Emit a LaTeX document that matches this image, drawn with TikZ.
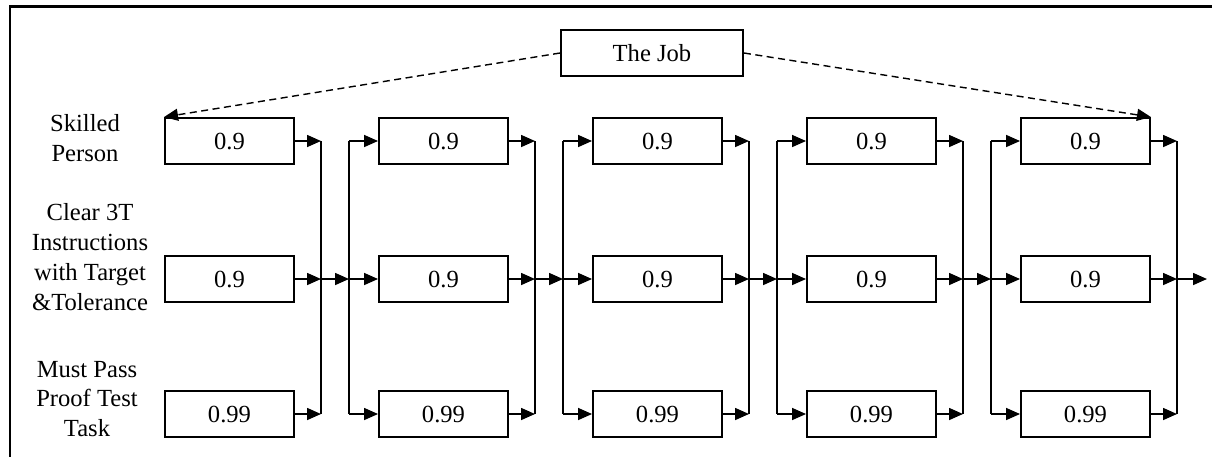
\documentclass[tikz,border=0pt]{standalone}
\usepackage{fontspec}
\setmainfont{Liberation Serif}
\usetikzlibrary{arrows.meta,positioning}

\begin{document}
\begin{tikzpicture}[x=0.2mm,y=-0.2mm,>={Triangle[length=2.8mm,width=2.4mm]},
  line width=0.9pt,
  cell/.style={draw,line width=1.1pt,minimum width=25.8mm,minimum height=9.2mm,
    inner sep=0pt,font=\fontsize{14}{17}\selectfont},
  rowlabel/.style={align=center,font=\fontsize{14}{17}\selectfont}]

% Frame
\useasboundingbox (0,0) rectangle (1212,456);
\draw[line width=1.2pt] (10,460) -- (10,6.5) -- (1215,6.5);

% Labels for the rows
\node[rowlabel] (lskill) at (85,138) {Skilled\\Person};
\node[rowlabel] (linstr) at (90,257) {Clear 3T\\Instructions\\with Target\\\&Tolerance};
\node[rowlabel] (lproof) at (87,399) {Must Pass\\Proof Test\\Task};

% The job
\node[cell,minimum width=36.4mm] (job) at (652,53) {The Job};

% Columns of boxes with their outputs
\foreach \i in {1,...,5}{
  \pgfmathsetmacro{\L}{165+214*(\i-1)}
  \node[cell] (top\i) at (\L+64.5,141) {0.9};
  \node[cell] (mid\i) at (\L+64.5,279) {0.9};
  \node[cell] (bot\i) at (\L+64.5,414) {0.99};
  \coordinate (ot\i) at (\L+156,141);
  \coordinate (om\i) at (\L+156,279);
  \coordinate (ob\i) at (\L+156,414);
  \draw[->] (top\i.east) -- (ot\i);
  \draw[->] (mid\i.east) -- (om\i);
  \draw[->] (bot\i.east) -- (ob\i);
  \draw (ot\i) -- (ob\i);
}

% Inputs of columns 2 to 5
\foreach \i in {2,...,5}{
  \pgfmathtruncatemacro{\j}{\i-1}
  \pgfmathsetmacro{\L}{165+214*(\i-1)}
  \coordinate (it\i) at (\L-30,141);
  \coordinate (im\i) at (\L-30,279);
  \coordinate (ib\i) at (\L-30,414);
  \draw[->] (om\j) -- (im\i);
  \draw (it\i) -- (ib\i);
  \draw[->] (it\i) -- (top\i.west);
  \draw[->] (im\i) -- (mid\i.west);
  \draw[->] (ib\i) -- (bot\i.west);
}

% Output of the last column
\coordinate (end) at (1207,279);
\draw[->] (om5) -- (end);

% Job to first and last skilled person
\draw[->,line width=0.8pt,dash pattern=on 1.4mm off 0.9mm] (job.west) -- (top1.north west);
\draw[->,line width=0.8pt,dash pattern=on 1.4mm off 0.9mm] (job.east) -- (top5.north east);

\end{tikzpicture}
\end{document}
